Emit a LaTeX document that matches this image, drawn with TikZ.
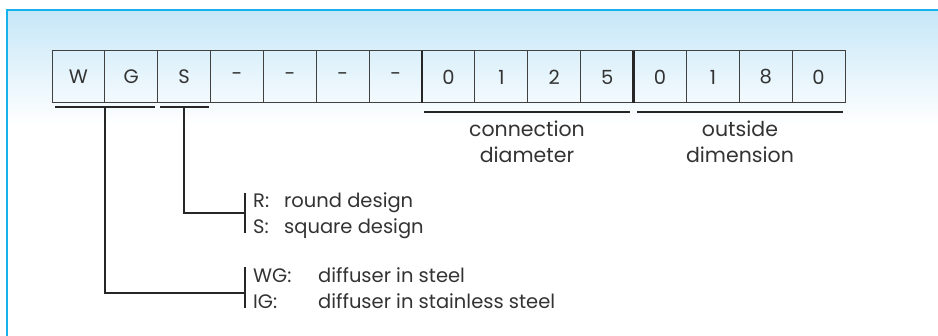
\documentclass[tikz,border=0pt]{standalone}
\usepackage{fontspec}
\setmainfont{Poppins}
\begin{document}
\begin{tikzpicture}[x=1pt,y=-1pt,
  cell/.style={draw=black!75,line width=1pt,minimum width=52.87pt,minimum height=52pt,inner sep=0pt,outer sep=0pt,text=black!80,font=\fontsize{19.5}{20}\selectfont},
  lbl/.style={inner sep=0pt,anchor=base west,text=black!80,font=\fontsize{19.5}{20}\selectfont},
  captxt/.style={inner sep=0pt,align=center,text=black!80,font=\fontsize{20.5}{26}\selectfont},
  ul/.style={draw=black!85,line width=2pt},
  thinul/.style={draw=black!85,line width=1.2pt},
  conn/.style={draw=black!85,line width=2pt}]
\useasboundingbox (0,0) rectangle (938,336);
\definecolor{frameblue}{HTML}{17B1EC}
\definecolor{skyblue}{HTML}{C6E7F8}
\shade[top color=skyblue,bottom color=white] (8,11) rectangle (938,125);
\draw[frameblue,line width=2.2pt] (7,336) -- (7,10) -- (938,10);
% cells
\foreach \t [count=\i] in {W,G,S,-,-,-,-,0,1,2,5,0,1,8,0}{
  \node[cell] (c\i) at ({52+(\i-0.5)*52.87},77) {\t};
}
\draw[black!85,line width=2.6pt] (c8.north west) -- (c8.south west);
\draw[black!85,line width=2.6pt] (c12.north west) -- (c12.south west);
% underlines
\coordinate (wgL) at (55,107.5);
\coordinate (wgR) at (155,107.5);
\coordinate (wgM) at (105,107.5);
\coordinate (sL) at (160,107.5);
\coordinate (sR) at (209,107.5);
\coordinate (sM) at (183.5,107.5);
\draw[ul] (wgL) -- (wgR);
\draw[ul] (sL) -- (sR);
\draw[thinul] (424,112) -- (630,112);
\draw[thinul] (637,112) -- (843,112);
\node[captxt] (cd) at (527,142) {connection\\diameter};
\node[captxt] (od) at (740,142) {outside\\dimension};
% brackets
\coordinate (b1t) at (245,193);
\coordinate (b1b) at (245,233);
\coordinate (b1m) at (245,213);
\coordinate (b2t) at (245,267);
\coordinate (b2b) at (245,308);
\coordinate (b2m) at (245,293);
\draw[conn] (b1t) -- (b1b);
\draw[conn] (b2t) -- (b2b);
\draw[conn] (sM) |- (b1m);
\draw[conn] (wgM) |- (b2m);
% labels
\node[lbl] (r) at (253,208) {R:};
\node[lbl] (rt) at (284,208) {round design};
\node[lbl] (s) at (253,234) {S:};
\node[lbl] (st) at (284,234) {square design};
\node[lbl] (wg) at (253,283) {WG:};
\node[lbl] (wgt) at (318,283) {diffuser in steel};
\node[lbl] (ig) at (253,309) {IG:};
\node[lbl] (igt) at (318,309) {diffuser in stainless steel};
\end{tikzpicture}
\end{document}
